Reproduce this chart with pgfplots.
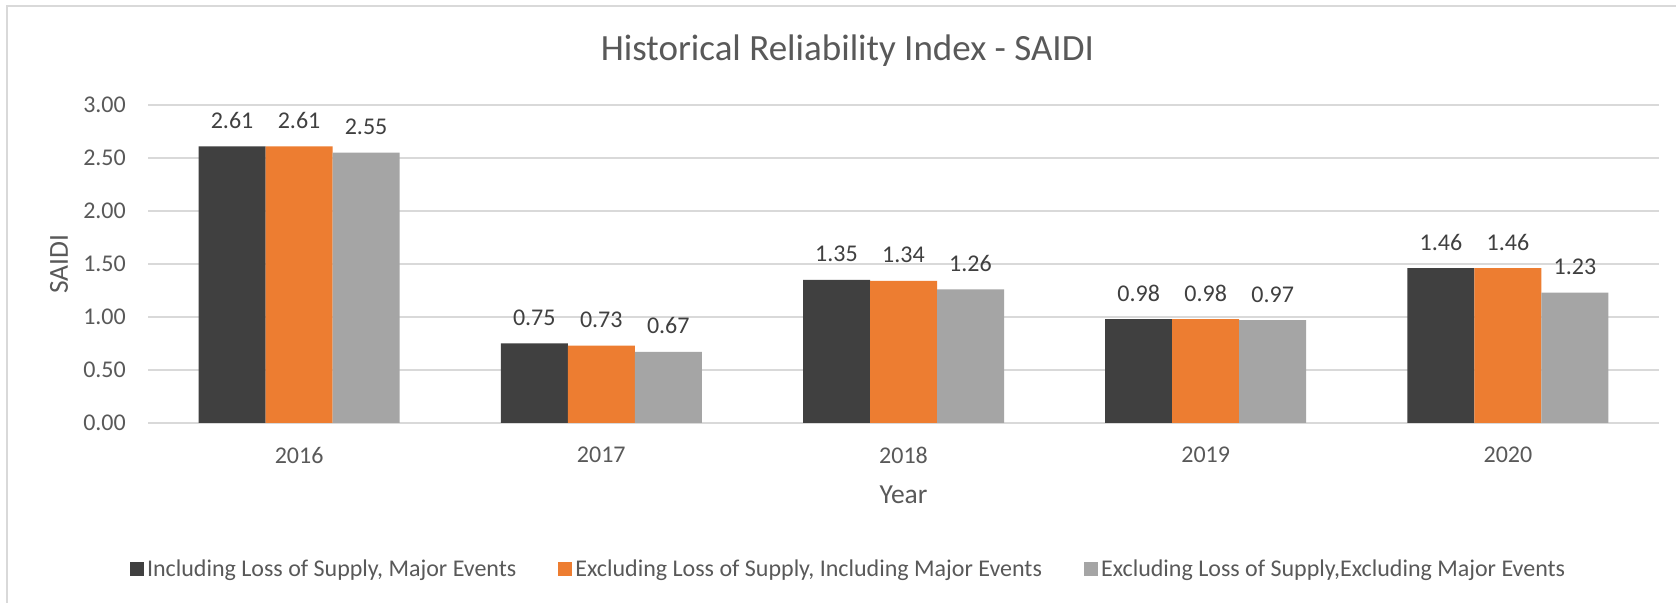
\documentclass[border=0pt]{standalone}
\usepackage{fontspec}
\setmainfont{Carlito}
\usepackage{pgfplots}
\pgfplotsset{compat=1.18}
\definecolor{cdark}{HTML}{404040}
\definecolor{corange}{HTML}{ED7D31}
\definecolor{cgray}{HTML}{A5A5A5}
\definecolor{ctext}{HTML}{595959}
\definecolor{cgrid}{HTML}{D9D9D9}
\begin{document}
\begin{tikzpicture}[x=1bp,y=1bp]
\path[use as bounding box, fill=white] (0,0) rectangle (1676,603);
\draw[cgrid, line width=1.5bp] (7,0) -- (7,597) -- (1676,597);
\begin{axis}[
  at={(148bp,180bp)}, anchor=south west,
  scale only axis, width=1511bp, height=318bp,
  clip=false,
  xmin=-0.5, xmax=4.5, ymin=0, ymax=3,
  ytick={0,0.5,1,1.5,2,2.5,3},
  xtick={0,1,2,3,4}, xticklabels={2016,2017,2018,2019,2020},
  /pgf/number format/assume math mode=true,
  yticklabel={\pgfmathprintnumber[fixed,fixed zerofill,precision=2]{\tick}},
  ymajorgrids, grid style={draw=cgrid, line width=1.5bp},
  axis line style={draw=none}, major tick length=0pt,
  ticklabel style={font=\fontsize{24bp}{28bp}\selectfont, text=ctext, inner sep=0pt},
  yticklabel style={xshift=-22bp},
  xticklabel style={yshift=-24bp},
  ybar=0pt, bar width=67bp,
  xlabel={Year},
  label style={font=\fontsize{27.5bp}{32bp}\selectfont, text=ctext, inner sep=0pt},
  xlabel style={at={(axis description cs:0.5,0)}, anchor=base, yshift=-81bp},
  title={Historical Reliability Index - SAIDI},
  title style={font=\fontsize{37bp}{44bp}\selectfont, text=ctext, inner sep=0pt,
    at={(axis description cs:0.4629,1)}, anchor=base, yshift=39bp},
  nodes near coords={\pgfmathprintnumber[fixed,fixed zerofill,precision=2]{\pgfplotspointmeta}},
  every node near coord/.append style={font=\fontsize{24bp}{28bp}\selectfont, text=cdark, inner sep=0pt, anchor=base, yshift=18bp},
  legend columns=3,
  legend style={at={(axis description cs:-0.0119,-0.4591)}, anchor=west, draw=none, fill=none,
    inner sep=0pt, outer sep=0pt,
    font=\fontsize{24bp}{28bp}\selectfont, text=ctext,
    nodes={inner sep=3bp},
    /tikz/every even column/.append style={column sep=39bp}},
  legend image code/.code={\fill[#1] (0bp,-7bp) rectangle (14bp,7bp);},
]
\addplot[fill=cdark, draw=none] coordinates {(0,2.61) (1,0.75) (2,1.35) (3,0.98) (4,1.46)};
\addplot[fill=corange, draw=none] coordinates {(0,2.61) (1,0.73) (2,1.34) (3,0.98) (4,1.46)};
\addplot[fill=cgray, draw=none] coordinates {(0,2.55) (1,0.67) (2,1.26) (3,0.97) (4,1.23)};
\legend{{Including Loss of Supply, Major Events},{Excluding Loss of Supply, Including Major Events},{Excluding Loss of Supply,Excluding Major Events}}
\node[rotate=90, anchor=center, inner sep=0pt, text=ctext, font=\fontsize{27.5bp}{32bp}\selectfont] at (axis description cs:-0.0589,0.5) {SAIDI};
\end{axis}
\end{tikzpicture}
\end{document}
